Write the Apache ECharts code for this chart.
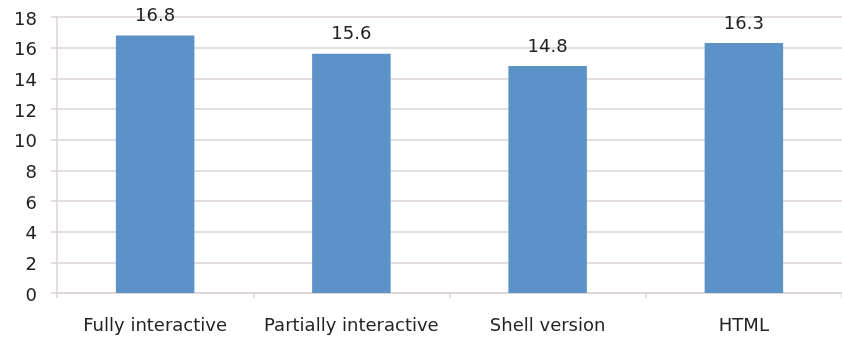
<!DOCTYPE html>
<html>
<head>
<meta charset="utf-8">
<script src="https://cdn.jsdelivr.net/npm/echarts@6/dist/echarts.min.js"></script>
<style>
  html, body { margin: 0; padding: 0; background: #fff; }
  #chart { width: 842px; height: 337px; }
</style>
</head>
<body>
<div id="chart"></div>
<script>
// Versions compared and their average scores
const categories = ['Fully interactive', 'Partially interactive', 'Shell version', 'HTML'];
const scores = [16.8, 15.6, 14.8, 16.3];

const axisGray = '#ddd3d3';
const textColor = '#222222';
const font = 'DejaVu Sans';

const chart = echarts.init(document.getElementById('chart'), null, { renderer: 'canvas' });
chart.setOption({
  animation: false,
  backgroundColor: '#ffffff',
  grid: { left: 57, right: 0, top: 17, bottom: 44, containLabel: false },
  xAxis: {
    type: 'category',
    data: categories,
    axisLine: { show: true, lineStyle: { color: axisGray, width: 1.5 } },
    axisTick: { show: true, interval: 0, length: 5, lineStyle: { color: axisGray, width: 1.5 } },
    axisLabel: { interval: 0, color: textColor, fontFamily: font, fontSize: 18, margin: 24 }
  },
  yAxis: {
    type: 'value',
    min: 0,
    max: 18,
    interval: 2,
    axisLine: { show: true, lineStyle: { color: axisGray, width: 1.5 } },
    axisTick: { show: true, length: 6, lineStyle: { color: axisGray, width: 1.5 } },
    splitLine: { show: true, lineStyle: { color: axisGray, width: 1.5 } },
    axisLabel: {
      margin: 20,
      formatter: '{v|{value}}',
      rich: {
        v: { color: textColor, fontFamily: font, fontSize: 18, padding: [6, 0, 0, 0] }
      }
    }
  },
  series: [{
    type: 'bar',
    data: scores,
    barWidth: '40%',
    itemStyle: { color: '#5b92c7' },
    label: {
      show: true,
      position: 'top',
      distance: 10,
      color: textColor,
      fontFamily: font,
      fontSize: 18
    }
  }]
});
</script>
</body>
</html>
